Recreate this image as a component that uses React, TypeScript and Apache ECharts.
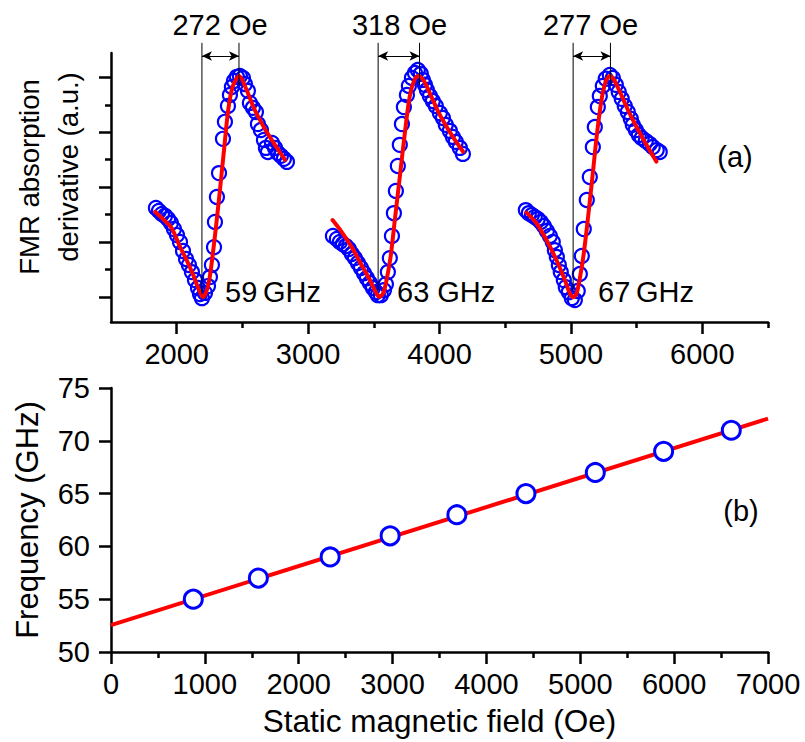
import React, { useEffect, useRef } from "react";
import * as echarts from "echarts";

const FONT = "'Liberation Sans', Arial, Helvetica, sans-serif";
const BLUE = "#0000ff";
const RED = "#ff0000";

// ---------- Panel (a): FMR absorption derivative spectra ----------
const field59 = [1842, 1865, 1888, 1911, 1934, 1956, 1979, 2002, 2025, 2048, 2071, 2093, 2116, 2139, 2162, 2177, 2192, 2215, 2238, 2253, 2268, 2284, 2291, 2306, 2322, 2352, 2367, 2390, 2405, 2420, 2436, 2458, 2481, 2504, 2519, 2542, 2557, 2580, 2603, 2618, 2641, 2664, 2679, 2694, 2725, 2748, 2770, 2793, 2816, 2839];
const signal59 = [3.24, 3.13, 3.02, 2.95, 2.84, 2.69, 2.47, 2.25, 2.0, 1.67, 1.38, 1.16, 0.9, 0.61, 0.32, 0.1, -0.05, 0.14, 0.39, 0.72, 1.16, 1.81, 2.73, 3.64, 4.51, 5.76, 6.38, 6.96, 7.36, 7.65, 7.87, 8.02, 8.05, 7.98, 7.76, 7.51, 7.07, 6.89, 6.74, 6.3, 6.08, 5.72, 5.43, 5.28, 5.61, 5.43, 5.24, 5.14, 5.03, 4.92];

const field63 = [3189, 3219, 3242, 3265, 3288, 3310, 3333, 3356, 3379, 3402, 3425, 3447, 3470, 3493, 3516, 3531, 3554, 3577, 3592, 3607, 3622, 3638, 3653, 3668, 3683, 3698, 3714, 3729, 3752, 3767, 3790, 3813, 3835, 3858, 3873, 3889, 3904, 3927, 3949, 3972, 4003, 4026, 4048, 4079, 4102, 4124, 4155, 4178];
const signal63 = [2.22, 2.11, 2.0, 1.92, 1.85, 1.74, 1.56, 1.41, 1.23, 1.05, 0.86, 0.68, 0.5, 0.32, 0.17, 0.06, 0.06, 0.24, 0.46, 0.9, 1.41, 2.22, 3.05, 3.86, 4.77, 5.54, 6.3, 6.92, 7.36, 7.69, 7.98, 8.16, 8.27, 8.13, 7.91, 7.73, 7.54, 7.32, 7.14, 6.96, 6.7, 6.52, 6.27, 6.05, 5.83, 5.65, 5.43, 5.21];

const field67 = [4657, 4680, 4703, 4725, 4748, 4771, 4794, 4817, 4840, 4862, 4878, 4893, 4908, 4923, 4946, 4961, 4984, 5007, 5030, 5052, 5068, 5083, 5098, 5121, 5144, 5167, 5182, 5205, 5220, 5243, 5265, 5296, 5319, 5342, 5364, 5387, 5410, 5433, 5456, 5471, 5494, 5517, 5539, 5570, 5600, 5623, 5653, 5676];
const signal67 = [3.16, 3.05, 2.98, 2.91, 2.84, 2.73, 2.58, 2.4, 2.22, 2.0, 1.7, 1.45, 1.16, 0.9, 0.61, 0.35, 0.17, -0.05, -0.12, 0.21, 0.83, 1.49, 2.47, 3.53, 4.37, 5.46, 6.19, 6.92, 7.32, 7.69, 7.95, 8.09, 7.98, 7.73, 7.47, 7.22, 6.96, 6.74, 6.49, 6.27, 6.08, 5.9, 5.79, 5.68, 5.57, 5.46, 5.35, 5.28];

// fitted curves (red)
const fitField59 = [1835, 1898, 1962, 2025, 2076, 2126, 2164, 2202, 2240, 2266, 2299, 2329, 2360, 2392, 2426, 2476, 2532, 2583, 2633, 2684, 2748, 2824];
const fitSignal59 = [3.1, 2.82, 2.5, 1.82, 1.34, 0.79, 0.31, -0.02, 0.43, 1.22, 2.55, 3.89, 5.35, 6.81, 7.66, 8.05, 7.54, 6.93, 6.45, 6.02, 5.54, 4.99];
const fitField63 = [3186, 3255, 3331, 3407, 3470, 3508, 3541, 3571, 3597, 3628, 3660, 3698, 3736, 3769, 3800, 3838, 3876, 3927, 3990, 4054, 4117, 4180];
const fitSignal63 = [2.8, 2.37, 1.82, 1.16, 0.61, 0.24, 0.0, 0.12, 0.61, 1.46, 2.8, 4.38, 5.96, 7.18, 7.79, 8.05, 7.91, 7.42, 6.75, 6.2, 5.72, 5.29];
const fitField67 = [4662, 4738, 4814, 4890, 4954, 4992, 5017, 5043, 5068, 5098, 5131, 5164, 5199, 5233, 5265, 5296, 5326, 5372, 5435, 5499, 5575, 5651];
const fitSignal67 = [3.07, 2.68, 2.07, 1.34, 0.61, 0.12, -0.02, 0.12, 0.67, 1.58, 2.92, 4.38, 5.96, 7.18, 7.85, 8.05, 7.93, 7.48, 6.81, 6.2, 5.54, 4.93];

// peak-to-peak markers
const minFields = [2192, 3533, 5017];
const maxFields = [2474, 3848, 5301];
const minLineBottoms = [0.1, 0.24, 0.24];
const maxLineBottoms = [7.72, 7.72, 7.72];
const markerTop = 9.26;
const arrowLevel = 8.78;
const widthLabels = ["272 Oe", "318 Oe", "277 Oe"];
const freqLabels = ["59\u2009GHz", "63 GHz", "67\u2009GHz"];

const majorTicksA = [2000, 3000, 4000, 5000, 6000];
const minorTicksA = [2500, 3500, 4500, 5500, 6500];
const majorTicksAY = [0, 2, 4, 6, 8];
const minorTicksAY = [1, 3, 5, 7];

// ---------- Panel (b): frequency vs resonance field ----------
const resField = [877, 1570, 2335, 2974, 3685, 4421, 5160, 5888, 6609];
const resFreq = [55, 57, 59, 61, 63, 65, 67, 69, 71];
const fitFieldB = [0, 7000];
const fitFreqB = [52.55, 72.1];

const zip = (xs: number[], ys: number[]) => xs.map((x, i) => [x, ys[i]]);

const axisLineStyle = { color: "#000", width: 2.5 };
const tickLineStyle = { color: "#000", width: 2.5 };
const labelStyle = { color: "#000", fontSize: 29, fontFamily: FONT };
const plain = (v: number) => String(v);

function buildOption() {
  const scatterA = (name: string, xs: number[], ys: number[]) => ({
    name,
    type: "scatter",
    xAxisIndex: 0,
    yAxisIndex: 0,
    data: zip(xs, ys),
    symbol: "circle",
    symbolSize: 14,
    itemStyle: { color: "rgba(0,0,0,0)", borderColor: BLUE, borderWidth: 2.2, opacity: 1 },
    silent: true,
    z: 3,
  });
  const fitA = (name: string, xs: number[], ys: number[]) => ({
    name,
    type: "line",
    xAxisIndex: 0,
    yAxisIndex: 0,
    data: zip(xs, ys),
    showSymbol: false,
    symbol: "none",
    smooth: 0.3,
    lineStyle: { color: RED, width: 4, cap: "round", join: "round" },
    silent: true,
    z: 4,
  });

  const markerSeries: any[] = [];
  minFields.forEach((mf, i) => {
    markerSeries.push({
      type: "line",
      xAxisIndex: 0,
      yAxisIndex: 0,
      data: [[mf, minLineBottoms[i]], [mf, markerTop]],
      symbol: "none",
      clip: false,
      lineStyle: { color: "#000", width: 1 },
      silent: true,
      z: 5,
      markLine: {
        silent: true,
        symbol: ["arrow", "arrow"],
        symbolSize: [7, 10],
        label: { show: false },
        lineStyle: { color: "#000", width: 1, type: "solid" },
        data: [[{ coord: [mf, arrowLevel] }, { coord: [maxFields[i], arrowLevel] }]],
      },
    });
    markerSeries.push({
      type: "line",
      xAxisIndex: 0,
      yAxisIndex: 0,
      data: [[maxFields[i], maxLineBottoms[i]], [maxFields[i], markerTop]],
      symbol: "none",
      clip: false,
      lineStyle: { color: "#000", width: 1 },
      silent: true,
      z: 5,
    });
  });

  const textEl = (text: string, x: number, y: number, align: string, size = 29, rot = 0) => ({
    type: "text",
    x,
    y,
    rotation: rot,
    style: {
      text,
      fill: "#000",
      font: `${size}px ${FONT}`,
      textAlign: align,
      textVerticalAlign: "middle",
    },
    silent: true,
  });

  const widthLabelX = [220, 399.5, 590.5];
  const freqLabelX = [225, 397, 598];

  return {
    animation: false,
    backgroundColor: "#ffffff",
    grid: [
      { left: 111, top: 53, width: 657, height: 269 },
      { left: 111, top: 388, width: 657, height: 264 },
    ],
    xAxis: [
      {
        gridIndex: 0,
        type: "value",
        position: "bottom",
        min: 1500,
        max: 6500,
        axisLine: { show: true, onZero: false, lineStyle: axisLineStyle },
        axisTick: { show: true, customValues: majorTicksA, length: 12, lineStyle: tickLineStyle },
        axisLabel: { show: true, customValues: majorTicksA, margin: 17, formatter: plain, ...labelStyle },
        splitLine: { show: false },
      },
      {
        gridIndex: 0,
        type: "value",
        position: "bottom",
        min: 1500,
        max: 6500,
        axisLine: { show: false, onZero: false },
        axisTick: { show: true, customValues: minorTicksA, length: 6, lineStyle: tickLineStyle },
        axisLabel: { show: false },
        splitLine: { show: false },
      },
      {
        gridIndex: 1,
        type: "value",
        position: "bottom",
        min: 0,
        max: 7000,
        interval: 1000,
        axisLine: { show: true, onZero: false, lineStyle: axisLineStyle },
        axisTick: { show: true, length: 12, lineStyle: tickLineStyle },
        minorTick: { show: true, splitNumber: 2, length: 6, lineStyle: tickLineStyle },
        axisLabel: { show: true, margin: 17, formatter: plain, ...labelStyle },
        splitLine: { show: false },
        minorSplitLine: { show: false },
        name: "Static magnetic field (Oe)",
        nameLocation: "middle",
        nameGap: 53,
        nameTextStyle: { color: "#000", fontSize: 31.5, fontFamily: FONT },
      },
    ],
    yAxis: [
      {
        gridIndex: 0,
        type: "value",
        position: "left",
        min: -0.92,
        max: 8.89,
        axisLine: { show: true, onZero: false, lineStyle: axisLineStyle },
        axisTick: { show: true, customValues: majorTicksAY, length: 12, lineStyle: tickLineStyle },
        axisLabel: { show: false },
        splitLine: { show: false },
      },
      {
        gridIndex: 0,
        type: "value",
        position: "left",
        min: -0.92,
        max: 8.89,
        axisLine: { show: false, onZero: false },
        axisTick: { show: true, customValues: minorTicksAY, length: 6, lineStyle: tickLineStyle },
        axisLabel: { show: false },
        splitLine: { show: false },
      },
      {
        gridIndex: 1,
        type: "value",
        position: "left",
        min: 50,
        max: 75,
        interval: 5,
        axisLine: { show: true, onZero: false, lineStyle: axisLineStyle },
        axisTick: { show: true, length: 12, lineStyle: tickLineStyle },
        axisLabel: { show: true, margin: 21, formatter: plain, ...labelStyle },
        splitLine: { show: false },
        name: "Frequency (GHz)",
        nameLocation: "middle",
        nameGap: 68,
        nameTextStyle: { color: "#000", fontSize: 31, fontFamily: FONT },
      },
    ],
    graphic: [
      textEl("FMR absorption", 29.5, 177, "center", 27.5, Math.PI / 2),
      textEl("derivative (a.u.)", 68, 167, "center", 27.5, Math.PI / 2),
      ...widthLabels.map((t, i) => textEl(t, widthLabelX[i], 25, "center")),
      ...freqLabels.map((t, i) => textEl(t, freqLabelX[i], 292, "left")),
      textEl("(a)", 735, 157, "center"),
      textEl("(b)", 741, 511, "center"),
    ],
    series: [
      scatterA("59 GHz data", field59, signal59),
      scatterA("63 GHz data", field63, signal63),
      scatterA("67 GHz data", field67, signal67),
      fitA("59 GHz fit", fitField59, fitSignal59),
      fitA("63 GHz fit", fitField63, fitSignal63),
      fitA("67 GHz fit", fitField67, fitSignal67),
      ...markerSeries,
      {
        name: "Kittel fit",
        type: "line",
        xAxisIndex: 2,
        yAxisIndex: 2,
        data: zip(fitFieldB, fitFreqB),
        symbol: "none",
        lineStyle: { color: RED, width: 4 },
        silent: true,
        z: 2,
      },
      {
        name: "Resonance",
        type: "scatter",
        xAxisIndex: 2,
        yAxisIndex: 2,
        data: zip(resField, resFreq),
        symbol: "circle",
        symbolSize: 18,
        itemStyle: { color: "#ffffff", borderColor: BLUE, borderWidth: 3, opacity: 1 },
        silent: true,
        z: 3,
      },
    ],
  };
}

export default function App() {
  const ref = useRef<HTMLDivElement>(null);
  useEffect(() => {
    if (!ref.current) return;
    const chart = echarts.init(ref.current, null, { renderer: "svg" });
    chart.setOption(buildOption() as any);
    return () => chart.dispose();
  }, []);
  return (
    <div
      ref={ref}
      style={{ position: "fixed", left: 0, top: 0, width: 805, height: 742, background: "#ffffff" }}
    />
  );
}
